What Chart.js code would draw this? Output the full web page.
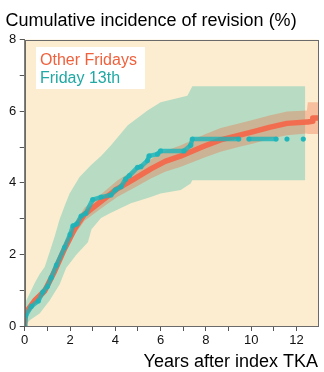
<!DOCTYPE html>
<html><head><meta charset="utf-8">
<script src="https://cdn.jsdelivr.net/npm/chart.js@4.4.1/dist/chart.umd.min.js"></script>
<style>html,body{margin:0;padding:0;background:#fff;}canvas{display:block;}</style>
</head><body>
<canvas id="c" width="324" height="372"></canvas>
<script>
// ---- data ----
const titleText = 'Cumulative incidence of revision (%)';
const xTitle = 'Years after index TKA';
const seriesNames = ['Other Fridays', 'Friday 13th'];
const xTickValues = [0,1,2,3,4,5,6,7,8,9,10,11,12];
const yTickValues = [0,1,2,3,4,5,6,7,8];

// Other Fridays: cumulative incidence and its confidence band
const otherT  = [0, 0.02, 0.44, 0.88, 1.32, 1.76, 2.2, 2.64, 3.37, 4.1, 4.84, 5.57, 6.2, 6.9, 7.91, 8.65, 9.4, 10.1, 10.8, 11.58, 12.46, 12.5, 12.7, 12.72, 12.95];
const otherV  = [0, 0.35, 0.71, 0.98, 1.53, 2.16, 2.71, 3.12, 3.48, 3.84, 4.11, 4.39, 4.6, 4.75, 5.02, 5.2, 5.32, 5.43, 5.55, 5.66, 5.7, 5.7, 5.72, 5.81, 5.81];
const otherLo = [0, 0.27, 0.61, 0.86, 1.40, 2.01, 2.55, 2.94, 3.28, 3.61, 3.86, 4.12, 4.31, 4.45, 4.70, 4.87, 4.99, 5.10, 5.22, 5.33, 5.38, 5.36, 5.36, 5.36, 5.36];
const otherHi = [0, 0.43, 0.81, 1.10, 1.66, 2.31, 2.87, 3.30, 3.68, 4.07, 4.36, 4.66, 4.89, 5.05, 5.34, 5.53, 5.65, 5.76, 5.88, 5.99, 6.02, 6.25, 6.25, 6.25, 6.25];

// Friday 13th: cumulative incidence (null = gap between dots)
const f13T = [0, 0.05, 0.3, 0.6, 0.8, 1.0, 1.17, 1.4, 1.76, 2.0, 2.13, 2.3, 2.49, 2.7, 3.0, 3.37, 3.81, 4.0, 4.25, 4.45, 4.62, 4.98, 5.13, 5.42, 5.49, 5.86, 6.0, 7.03, 7.33, 7.4, 9.45, 9.6, 9.9, 11.1, 11.3, 11.58, 11.9, 12.3];
const f13V = [0, 0.3, 0.55, 0.7, 0.95, 1.1, 1.35, 1.7, 2.2, 2.55, 2.8, 2.85, 3.07, 3.15, 3.53, 3.6, 3.66, 3.8, 3.89, 4.1, 4.2, 4.43, 4.45, 4.62, 4.75, 4.8, 4.89, 4.89, 5.05, 5.22, 5.22, null, 5.22, 5.22, null, 5.22, null, 5.22];

// Friday 13th confidence band
const f13HiT = [0, 0.07, 0.44, 0.66, 0.88, 1.1, 1.32, 1.54, 1.76, 1.98, 2.42, 2.93, 3.37, 3.81, 4.55, 5.42, 6.0, 7.18, 7.4, 12.38];
const f13Hi  = [0.5, 0.71, 1.2, 1.45, 1.65, 2.07, 2.5, 2.98, 3.35, 3.7, 4.16, 4.5, 4.75, 5.05, 5.61, 6.02, 6.25, 6.43, 6.7, 6.7];
const f13LoT = [0, 0.22, 0.66, 1.1, 1.54, 1.83, 2.27, 2.79, 2.95, 3.37, 3.81, 4.69, 5.57, 6.0, 6.89, 7.33, 7.4, 12.38];
const f13Lo  = [0, 0.16, 0.35, 0.71, 1.16, 1.62, 1.98, 2.34, 2.7, 3.02, 3.16, 3.43, 3.6, 3.7, 3.8, 3.98, 4.07, 4.07];

// ---- build library structures ----
const pts = (t, v) => t.map((x, i) => ({x: x, y: v[i]}));
const polygon = (tHi, hi, tLo, lo) => pts(tHi, hi).concat(pts(tLo, lo).reverse());

const FONT = "'Liberation Sans', Arial, Helvetica, sans-serif";
const ORANGE = '#f26c4f';
const TEAL = 'rgba(24,180,186,0.78)';

const bgPlugin = {
  id: 'plotbg',
  beforeDatasetsDraw(chart) {
    const a = chart.chartArea, ctx = chart.ctx;
    ctx.save();
    ctx.fillStyle = '#fdedd0';
    ctx.fillRect(a.left, a.top, a.right - a.left, a.bottom - a.top);
    ctx.restore();
  },
  afterDatasetsDraw(chart) {
    const a = chart.chartArea, ctx = chart.ctx;
    ctx.save();
    ctx.strokeStyle = '#6a6a6a';
    ctx.lineWidth = 1;
    ctx.strokeRect(Math.round(a.left) + 0.5, Math.round(a.top) + 0.5, Math.round(a.right - a.left), Math.round(a.bottom - a.top));
    // legend box
    ctx.fillStyle = '#ffffff';
    ctx.fillRect(36, 47, 109, 42);
    ctx.font = '16px ' + FONT;
    ctx.textBaseline = 'alphabetic';
    ctx.textAlign = 'left';
    ctx.fillStyle = '#f0603c';
    ctx.fillText(seriesNames[0], 40, 65);
    ctx.fillStyle = '#1fa8a4';
    ctx.fillText(seriesNames[1], 40, 83);
    ctx.restore();
  }
};

new Chart(document.getElementById('c'), {
  type: 'scatter',
  data: {
    datasets: [
      { label: seriesNames[1], data: pts(f13T, f13V), showLine: true, spanGaps: false,
        borderColor: TEAL, borderWidth: 4.5, borderCapStyle: 'round', borderJoinStyle: 'round',
        pointRadius: 2.6, pointBorderWidth: 0, pointBackgroundColor: TEAL, order: 0 },
      { label: seriesNames[0], data: pts(otherT, otherV), showLine: true,
        borderColor: ORANGE, borderWidth: 5.5, borderJoinStyle: 'round', pointRadius: 0, order: 1 },
      { label: 'Other Fridays band', data: polygon(otherT, otherHi, otherT, otherLo), showLine: true,
        borderWidth: 0, borderColor: 'rgba(0,0,0,0)', backgroundColor: 'rgba(236,110,70,0.36)', fill: 'shape', pointRadius: 0, order: 2 },
      { label: 'Friday 13th band', data: polygon(f13HiT, f13Hi, f13LoT, f13Lo), showLine: true,
        borderWidth: 0, borderColor: 'rgba(0,0,0,0)', backgroundColor: '#b8dcc3', fill: 'shape', pointRadius: 0, order: 3 }
    ]
  },
  options: {
    responsive: false,
    animation: false,
    layout: { padding: { left: 5.5, right: 6, top: 0, bottom: 0 } },
    plugins: {
      legend: { display: false },
      tooltip: { enabled: false },
      title: { display: true, text: titleText, align: 'start', color: '#000',
        font: { family: FONT, size: 18, weight: 'normal', lineHeight: 1.2 },
        padding: { top: 10, bottom: 8 } }
    },
    scales: {
      x: {
        type: 'linear', min: 0, max: 12.95,
        afterBuildTicks: s => { s.ticks = xTickValues.map(v => ({value: v})); },
        ticks: { callback: v => (v % 2 === 0 ? String(v) : ''), color: '#111', padding: 3, maxRotation: 0, autoSkip: false,
          font: { family: FONT, size: 13, lineHeight: 1.0 } },
        grid: { display: true, drawOnChartArea: false, drawTicks: true, tickLength: 5, color: '#555' },
        border: { display: true, color: '#555' },
        title: { display: true, text: xTitle, align: 'end', color: '#000',
          font: { family: FONT, size: 18, lineHeight: 1.0 }, padding: { top: 3, bottom: 1 } }
      },
      y: {
        type: 'linear', min: 0, max: 8,
        afterBuildTicks: s => { s.ticks = yTickValues.map(v => ({value: v})); },
        ticks: { callback: v => (v % 2 === 0 ? String(v) : ''), color: '#111', padding: 3.5, autoSkip: false,
          font: { family: FONT, size: 13, lineHeight: 1.0 } },
        grid: { display: true, drawOnChartArea: false, drawTicks: true, tickLength: 5, color: '#555' },
        border: { display: true, color: '#555' }
      }
    }
  },
  plugins: [bgPlugin]
});
</script>
</body></html>
